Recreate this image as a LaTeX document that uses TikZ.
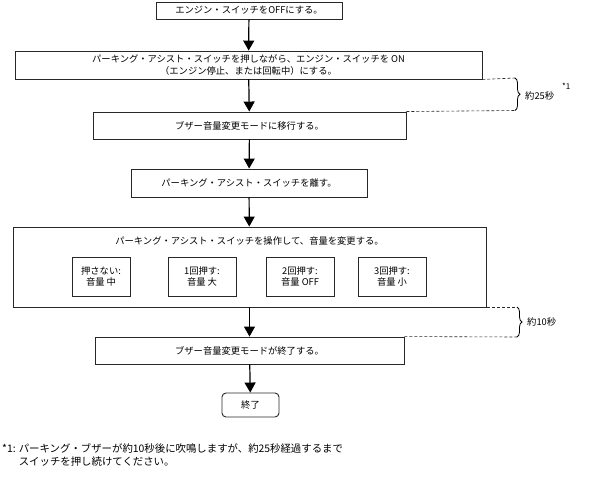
\documentclass[tikz,border=0pt]{standalone}
\usepackage{fontspec}
\setmainfont{Noto Sans CJK JP}
\usepackage{tikz}
\usetikzlibrary{arrows.meta,decorations.pathreplacing}
\definecolor{LineGray}{RGB}{40,40,40}

\begin{document}
\begin{tikzpicture}[x=1pt,y=-1pt,
    font=\fontsize{9.3}{11.5}\selectfont,
    stepbox/.style={draw=LineGray,line width=.9pt,inner sep=0pt,align=center},
    flow/.style={line width=1.2pt,-{Triangle[length=10pt,width=11pt]}},
    waitline/.style={LineGray,dashed,dash pattern=on 3pt off 2pt,line width=.6pt},
    waitbrace/.style={line width=.8pt,decorate,decoration={brace,amplitude=5pt}}]
  \useasboundingbox (0,0) rectangle (589,478);
  % main steps
  \node[stepbox,minimum width=186pt,minimum height=17pt] (off) at (249,10.5)
    {エンジン・スイッチをOFFにする。};
  \node[stepbox,minimum width=467pt,minimum height=28pt] (on) at (248.5,65)
    {パーキング・アシスト・スイッチを押しながら、エンジン・スイッチを ON\\
     （エンジン停止、または回転中）にする。};
  \node[stepbox,minimum width=313pt,minimum height=27pt] (enter) at (249.5,125.5)
    {ブザー音量変更モードに移行する。};
  \node[stepbox,minimum width=236pt,minimum height=28pt] (release) at (249,183)
    {パーキング・アシスト・スイッチを離す。};
  \node[stepbox,minimum width=473pt,minimum height=80pt] (adjust) at (249.5,267) {};
  \node (adjusttitle) at (249.5,241)
    {パーキング・アシスト・スイッチを操作して、音量を変更する。};
  \node[stepbox,minimum width=58pt,minimum height=39pt] (vmid) at (101,276.5)
    {押さない:\\音量 中};
  \node[stepbox,minimum width=68pt,minimum height=39pt] (vbig) at (202,276.5)
    {1回押す:\\音量 大};
  \node[stepbox,minimum width=68pt,minimum height=39pt] (voff) at (300,276.5)
    {2回押す:\\音量 OFF};
  \node[stepbox,minimum width=68pt,minimum height=39pt] (vsmall) at (392,276.5)
    {3回押す:\\音量 小};
  \node[stepbox,minimum width=309pt,minimum height=27pt] (leave) at (249.5,350.5)
    {ブザー音量変更モードが終了する。};
  \node[stepbox,rounded corners=4pt,minimum width=57pt,minimum height=24pt] (finish) at (250.5,405)
    {終了};
  % arrows
  \draw[flow] (off) -- (on);
  \draw[flow] (on) -- (enter);
  \draw[flow] (enter) -- (release);
  \draw[flow] (release) -- (adjust);
  \draw[flow] (adjust) -- (leave);
  \draw[flow] (leave) -- (finish);
  % waiting times
  \coordinate (w25a) at (515,78);
  \coordinate (w25b) at (515,110.5);
  \draw[waitline] (on.south east) -- (w25a);
  \draw[waitline] (enter.north east) -- (w25b);
  \draw[waitbrace] (w25a) -- (w25b);
  \node[anchor=west,inner sep=0pt] (t25) at (525,96) {約25秒};
  \node[anchor=west,inner sep=0pt,font=\fontsize{8}{9}\selectfont] (t25note) at (562,86) {*1};
  \coordinate (w10a) at (517,307);
  \coordinate (w10b) at (517,337);
  \draw[waitline] (387,307) -- (w10a);
  \draw[waitline] (leave.north east) -- (w10b);
  \draw[waitbrace] (w10a) -- (w10b);
  \node[anchor=west,inner sep=0pt] (t10) at (527,322) {約10秒};
  % footnote
  \node[anchor=north west,inner sep=0pt,align=left,
        font=\fontsize{10.4}{13}\selectfont] (note) at (2,443)
    {*1: パーキング・ブザーが約10秒後に吹鳴しますが、約25秒経過するまで\\
     \hspace*{1.6em}スイッチを押し続けてください。};
\end{tikzpicture}
\end{document}
